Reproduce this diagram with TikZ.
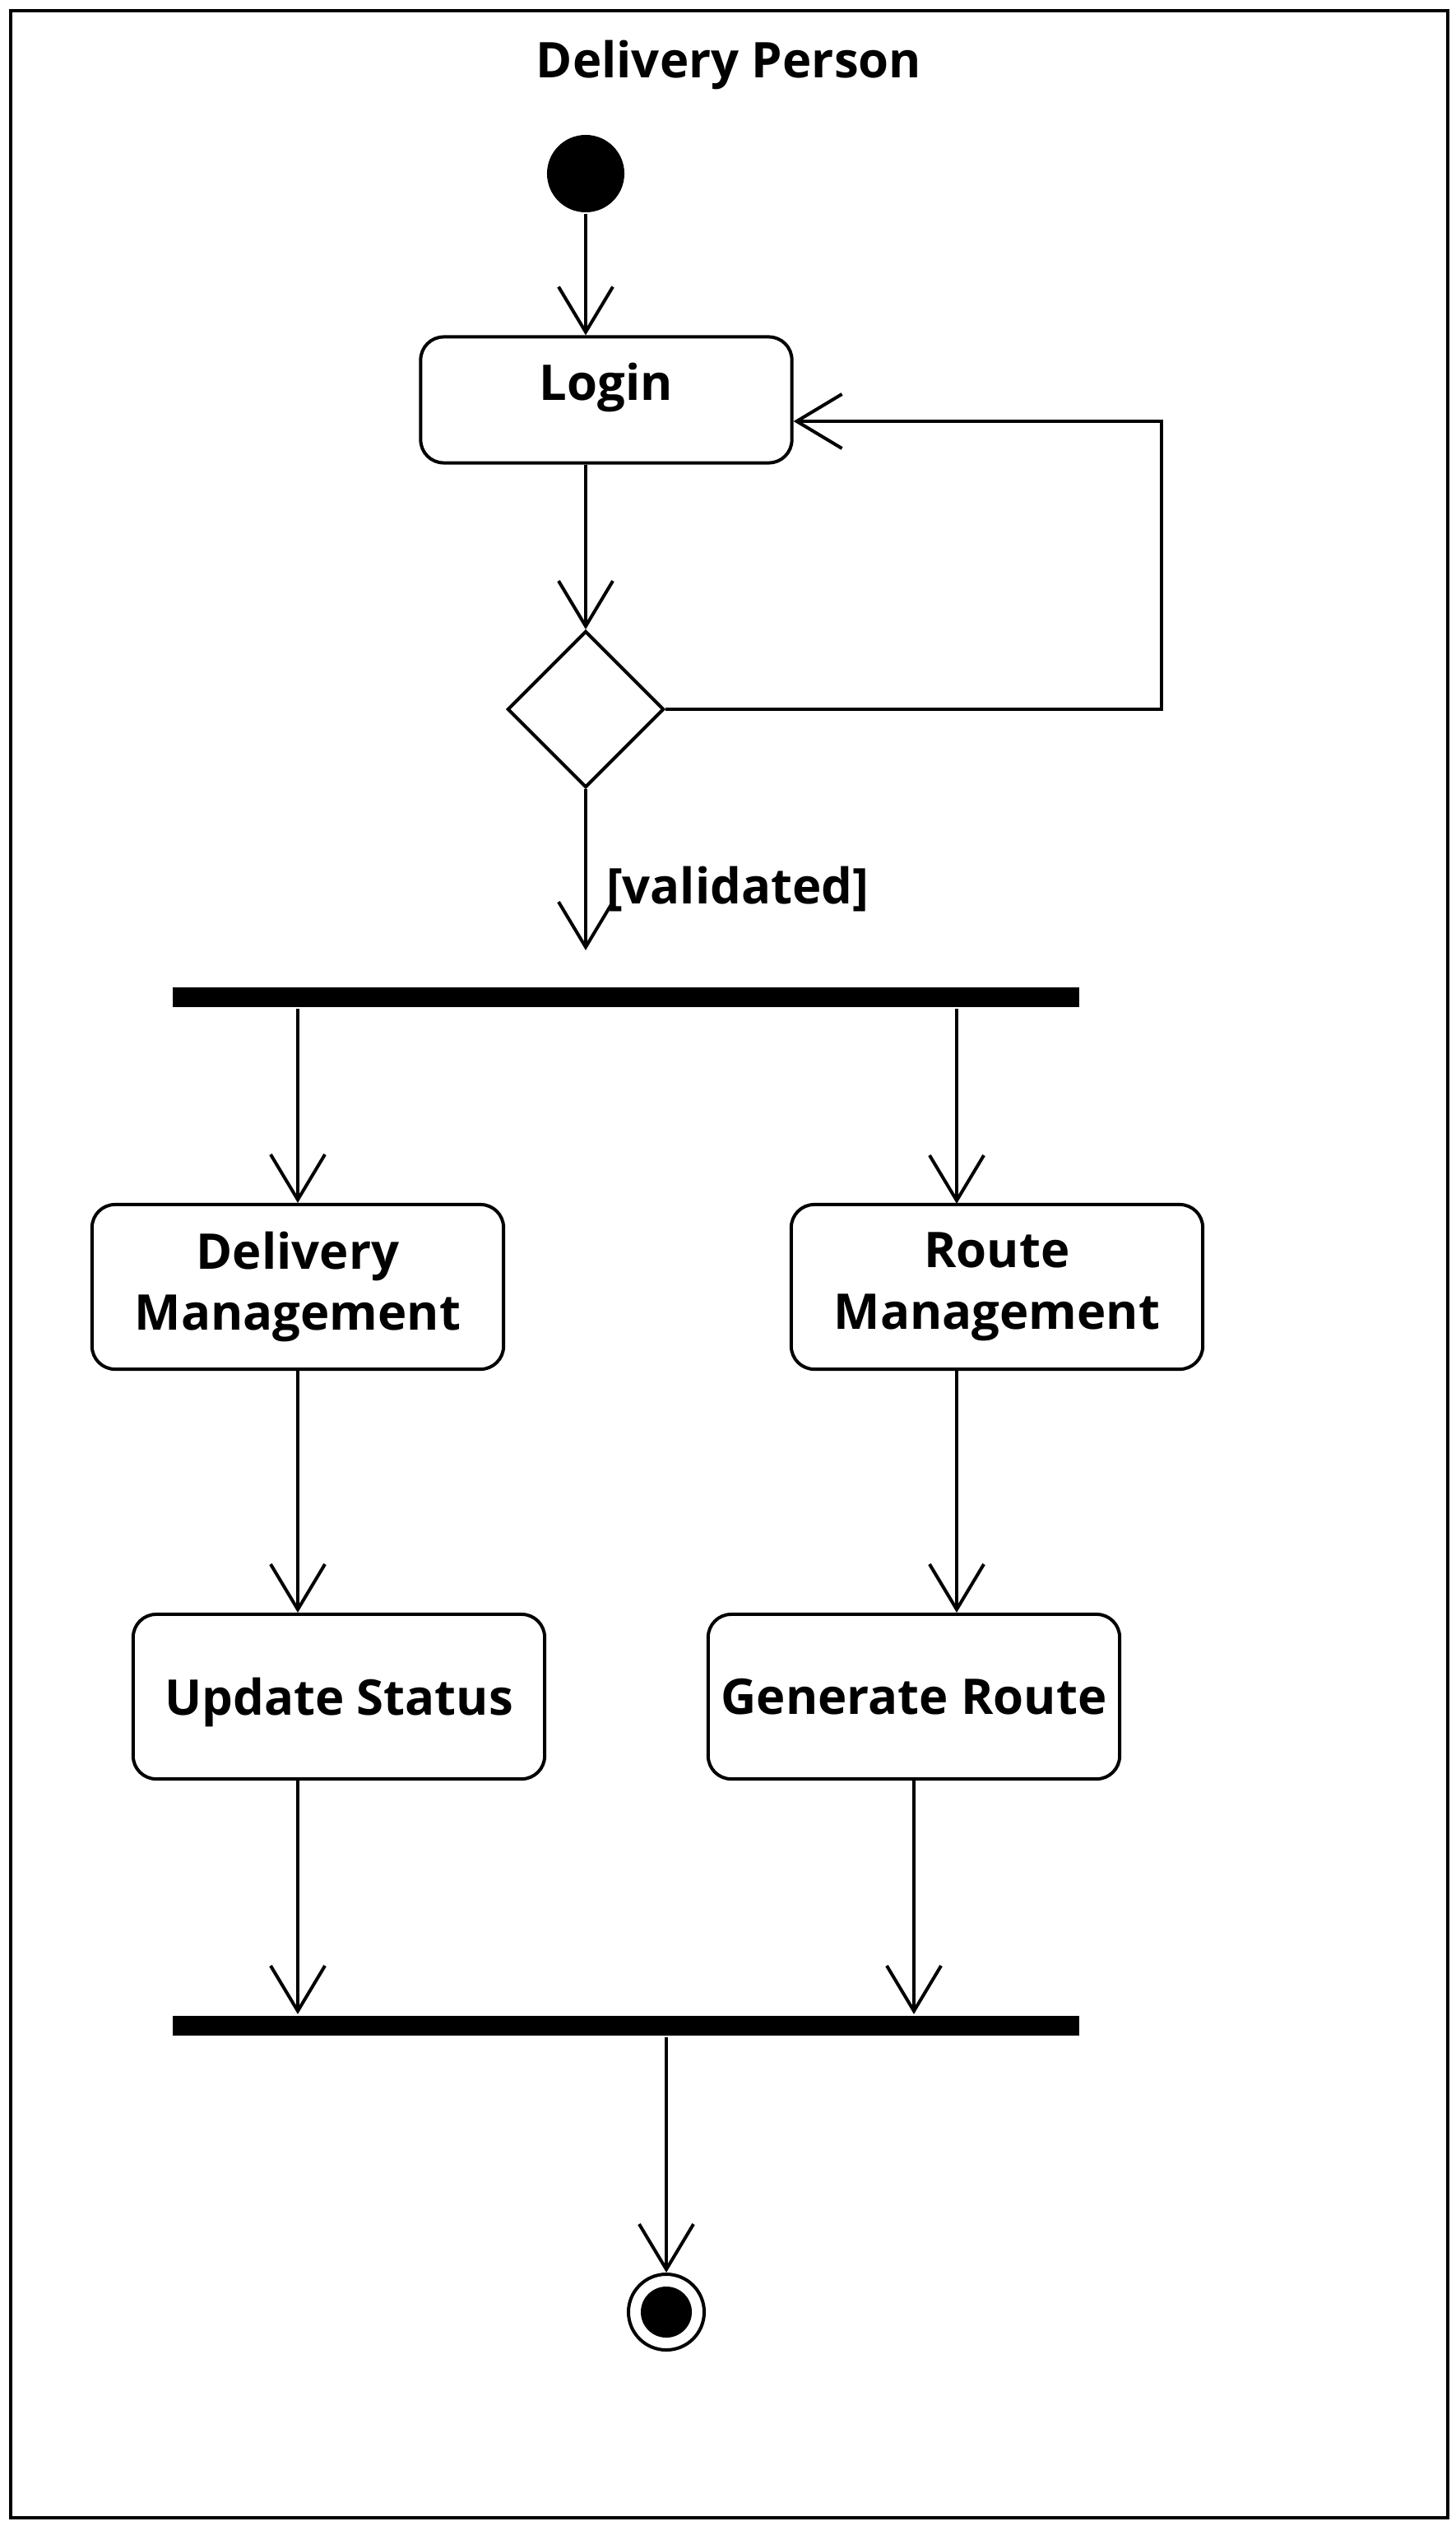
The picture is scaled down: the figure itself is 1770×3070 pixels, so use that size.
\documentclass[tikz,border=0pt]{standalone}
\usepackage{fontspec}
\setmainfont{Open Sans}
\usetikzlibrary{arrows.meta,shapes.geometric}

\begin{document}
\begin{tikzpicture}[x=0.01cm, y=-0.01cm, line width=0.04cm,
    font=\bfseries\fontsize{17}{21.3}\selectfont,
    action/.style={draw, rectangle, rounded corners=0.28cm, inner sep=0pt, align=center, minimum width=5cm, minimum height=2cm},
    bar/.style={rectangle, fill=black, inner sep=0pt, minimum width=11.01cm, minimum height=0.24cm},
    flow/.style={-{Straight Barb[length=0.55cm, width=0.66cm]}}]

    \useasboundingbox (0,0) rectangle (1770,3070);
    \draw (13,13) rectangle (1760,3060);

    % Nodes
    \node[anchor=base] (title) at (886,95) {Delivery Person};
    \node[circle, fill=black, inner sep=0pt, minimum size=0.94cm] (start) at (712,211) {};
    \node[action, minimum width=4.51cm, minimum height=1.53cm, text height=0.45cm, text depth=0.45cm] (login) at (737,486) {Login};
    \node[draw, diamond, inner sep=0pt, minimum width=1.9cm, minimum height=1.9cm] (check) at (712,862) {};
    \node[bar] (fork) at (761,1212) {};
    \node[anchor=base west, inner sep=0pt] (guard) at (735,1098) {[validated]};
    \node[action] (delivery) at (362,1564) {Delivery\\Management};
    \node[action] (route) at (1212,1564) {Route\\Management};
    \node[action, text depth=0pt] (status) at (412,2062) {Update Status};
    \node[action] (generate) at (1111,2062) {Generate Route};
    \node[bar] (join) at (761,2462) {};
    \node[circle, draw, inner sep=0pt, minimum size=0.92cm] (stop) at (810,2810) {};
    \fill (stop) circle (0.31cm);

    \coordinate (loop) at (1412,512);
    \coordinate (routein) at (1163,1463);

    % Arrows
    \draw[flow] (start) -- (start |- login.north);
    \draw[flow] (login.south -| check) -- (check.north);
    \draw[flow, shorten >=0.43cm] (check.south) -- (check |- fork.north);
    \draw[flow] (check.east) -| (loop) -- (loop -| login.east);
    \draw[flow] (fork.south -| delivery) -- (delivery.north);
    \draw[flow] (fork.south -| routein) -- (routein);
    \draw[flow] (delivery.south) -- (status.north -| delivery);
    \draw[flow] (route.south -| routein) -- (routein |- generate.north);
    \draw[flow] (status.south -| delivery) -- (delivery |- join.north);
    \draw[flow] (generate.south) -- (generate |- join.north);
    \draw[flow] (join.south -| stop) -- (stop.north);
\end{tikzpicture}
\end{document}
